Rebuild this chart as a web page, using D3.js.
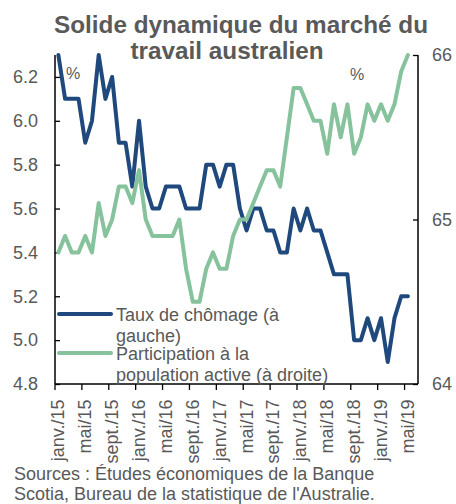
<!DOCTYPE html>
<html>
<head>
<meta charset="utf-8">
<script src="https://cdn.jsdelivr.net/npm/d3@7"></script>
<style>
  html, body { margin: 0; padding: 0; background: #fff; }
  svg { display: block; font-family: "Liberation Sans", Arial, sans-serif; }
</style>
</head>
<body>
<svg id="chart" width="456" height="504"></svg>
<script>
// Monthly labels, Jan 2015 – May 2019
const monthNames = ["janv.", "févr.", "mars", "avr.", "mai", "juin", "juil.", "août", "sept.", "oct.", "nov.", "déc."];
const years = ["15", "16", "17", "18", "19"];
const months = [];
years.forEach(y => monthNames.forEach(m => months.push(m + "/" + y)));
months.length = 53;

// Unemployment rate, % (left axis)
const unemployment = [
  6.3, 6.1, 6.1, 6.1, 5.9, 6.0, 6.3, 6.1, 6.2, 5.9, 5.9, 5.7,
  6.0, 5.7, 5.6, 5.6, 5.7, 5.7, 5.7, 5.6, 5.6, 5.6, 5.8, 5.8,
  5.7, 5.8, 5.8, 5.6, 5.5, 5.6, 5.6, 5.5, 5.5, 5.4, 5.4, 5.6,
  5.5, 5.6, 5.5, 5.5, 5.4, 5.3, 5.3, 5.3, 5.0, 5.0, 5.1, 5.0,
  5.1, 4.9, 5.1, 5.2, 5.2
];

// Participation rate, % (right axis)
const participation = [
  64.8, 64.9, 64.8, 64.8, 64.9, 64.8, 65.1, 64.9, 65.0, 65.2, 65.2, 65.1,
  65.3, 65.0, 64.9, 64.9, 64.9, 64.9, 65.0, 64.7, 64.5, 64.5, 64.7, 64.8,
  64.7, 64.7, 64.9, 65.0, 65.0, 65.1, 65.2, 65.3, 65.3, 65.2, 65.5, 65.8,
  65.8, 65.7, 65.6, 65.6, 65.4, 65.7, 65.5, 65.7, 65.4, 65.5, 65.7, 65.6,
  65.7, 65.6, 65.7, 65.9, 66.0
];

const leftTicks = [4.8, 5.0, 5.2, 5.4, 5.6, 5.8, 6.0, 6.2];
const rightTicks = [64, 65, 66];

const titleLines = ["Solide dynamique du marché du", "travail australien"];
const legendLabels = [["Taux de chômage (à", "gauche)"], ["Participation à la", "population active (à droite)"]];
const sourceLines = ["Sources : Études économiques de la Banque", "Scotia, Bureau de la statistique de l'Australie."];

const colors = { unemp: "#1f497d", part: "#86c29c", text: "#595959", axis: "#000" };
const fs = 18;

const svg = d3.select("#chart");
const plot = { left: 55, right: 418, top: 55, bottom: 384 };
const nSlots = months.length + 1; // one empty slot after the last month

const x = d3.scaleLinear().domain([0, nSlots]).range([plot.left, plot.right]);
const yL = d3.scaleLinear().domain([4.8, 6.3]).range([plot.bottom, plot.top]);
const yR = d3.scaleLinear().domain([64, 66]).range([plot.bottom, plot.top]);

// Title
const titleX = [241, 227];
svg.append("g").selectAll("text").data(titleLines).join("text")
  .attr("x", (d, i) => titleX[i]).attr("y", (d, i) => 33 + i * 26)
  .attr("text-anchor", "middle")
  .attr("font-size", 24.3).attr("font-weight", "bold")
  .attr("fill", colors.text).text(d => d);

// Left axis
const axL = svg.append("g").attr("transform", `translate(${plot.left},0)`)
  .call(d3.axisRight(yL).tickValues(leftTicks).tickSize(5).tickFormat(d3.format(".1f")));
axL.select(".domain").attr("d", `M0,${plot.top}V${plot.bottom}`).attr("stroke-width", 1.5);
axL.selectAll(".tick line").attr("stroke-width", 1.3);
axL.selectAll(".tick text").attr("x", -17).attr("text-anchor", "end")
  .attr("font-size", fs).attr("fill", colors.text).attr("font-family", null);

// Right axis
const axR = svg.append("g").attr("transform", `translate(${plot.right},0)`)
  .call(d3.axisLeft(yR).tickValues(rightTicks).tickSize(5).tickFormat(d3.format("d")));
axR.select(".domain").attr("d", `M0,${plot.top}V${plot.bottom}`).attr("stroke-width", 1.5);
axR.selectAll(".tick line").attr("stroke-width", 1.3);
axR.selectAll(".tick text").attr("x", 14).attr("text-anchor", "start")
  .attr("font-size", fs).attr("fill", colors.text).attr("font-family", null);

// Bottom axis: ticks at every fourth month boundary, labels at month centres
const tickIdx = d3.range(0, months.length, 4);
const axB = svg.append("g").attr("transform", `translate(0,${plot.bottom})`);
axB.append("line").attr("x1", plot.left).attr("x2", plot.right)
  .attr("stroke", colors.axis).attr("stroke-width", 1.5);
axB.selectAll("line.tk").data(tickIdx).join("line").attr("class", "tk")
  .attr("x1", d => x(d)).attr("x2", d => x(d)).attr("y1", 0).attr("y2", 6)
  .attr("stroke", colors.axis).attr("stroke-width", 1.3);
axB.selectAll("text").data(tickIdx).join("text")
  .attr("transform", d => `translate(${x(d + 0.5) + 6},15.5) rotate(-90)`)
  .attr("text-anchor", "end")
  .attr("font-size", fs).attr("fill", colors.text)
  .text(d => months[d]);

// Unit markers
svg.append("text").attr("x", 66).attr("y", 79).attr("font-size", 16).attr("fill", colors.text).text("%");
svg.append("text").attr("x", 350).attr("y", 80).attr("font-size", 16).attr("fill", colors.text).text("%");

// Series
const lineL = d3.line().x((d, i) => x(i + 0.5)).y(d => yL(d));
const lineR = d3.line().x((d, i) => x(i + 0.5)).y(d => yR(d));

svg.append("path").datum(unemployment).attr("d", lineL)
  .attr("fill", "none").attr("stroke", colors.unemp).attr("stroke-width", 4)
  .attr("stroke-linejoin", "round").attr("stroke-linecap", "round");
svg.append("path").datum(participation).attr("d", lineR)
  .attr("fill", "none").attr("stroke", colors.part).attr("stroke-width", 4)
  .attr("stroke-linejoin", "round").attr("stroke-linecap", "round");

// Legend
const legend = svg.append("g");
const legendRows = [
  { color: colors.unemp, lineY: 314, textY: [321, 342], lines: legendLabels[0] },
  { color: colors.part, lineY: 353, textY: [360, 381], lines: legendLabels[1] }
];
legendRows.forEach(r => {
  legend.append("line").attr("x1", 59).attr("x2", 111).attr("y1", r.lineY).attr("y2", r.lineY)
    .attr("stroke", r.color).attr("stroke-width", 4).attr("stroke-linecap", "round");
  r.lines.forEach((t, i) => legend.append("text").attr("x", 116).attr("y", r.textY[i])
    .attr("font-size", fs).attr("fill", colors.text).text(t));
});

// Sources
svg.append("g").selectAll("text").data(sourceLines).join("text")
  .attr("x", 14).attr("y", (d, i) => 480 + i * 20)
  .attr("font-size", fs).attr("fill", colors.text).text(d => d);
</script>
</body>
</html>
